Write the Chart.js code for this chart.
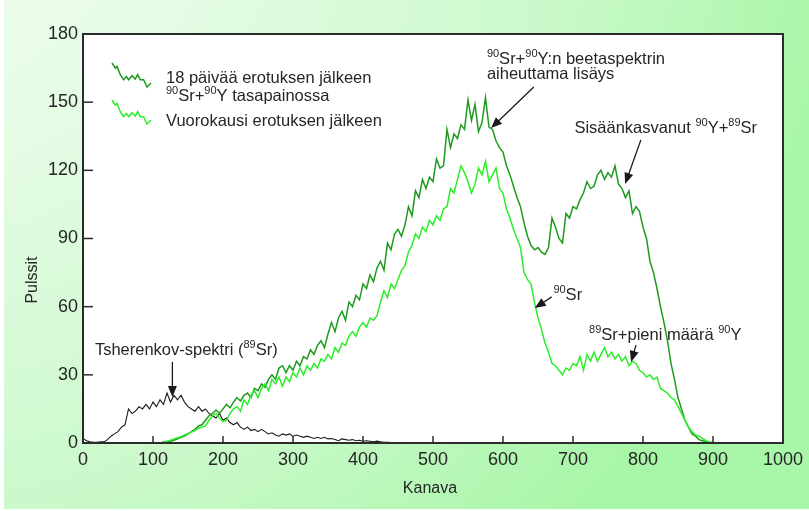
<!DOCTYPE html>
<html>
<head>
<meta charset="utf-8">
<script src="https://cdn.jsdelivr.net/npm/chart.js@4.4.0/dist/chart.umd.min.js"></script>
<style>
html, body { margin: 0; padding: 0; background: #fff; }
#wrap { width: 809px; height: 511px; }
</style>
</head>
<body>
<div id="wrap"><canvas id="myChart" width="809" height="511"></canvas></div>
<script>
// channels (Kanava) for the two green spectra, every 5 channels
var greenChannels = [
  100, 105, 110, 115, 120, 125, 130, 135, 140, 145,
  150, 155, 160, 165, 170, 175, 180, 185, 190, 195,
  200, 205, 210, 215, 220, 225, 230, 235, 240, 245,
  250, 255, 260, 265, 270, 275, 280, 285, 290, 295,
  300, 305, 310, 315, 320, 325, 330, 335, 340, 345,
  350, 355, 360, 365, 370, 375, 380, 385, 390, 395,
  400, 405, 410, 415, 420, 425, 430, 435, 440, 445,
  450, 455, 460, 465, 470, 475, 480, 485, 490, 495,
  500, 505, 510, 515, 520, 525, 530, 535, 540, 545,
  550, 555, 560, 565, 570, 575, 580, 585, 590, 595,
  600, 605, 610, 615, 620, 625, 630, 635, 640, 645,
  650, 655, 660, 665, 670, 675, 680, 685, 690, 695,
  700, 705, 710, 715, 720, 725, 730, 735, 740, 745,
  750, 755, 760, 765, 770, 775, 780, 785, 790, 795,
  800, 805, 810, 815, 820, 825, 830, 835, 840, 845,
  850, 855, 860, 865, 870, 875, 880, 885, 890, 895,
  900
];

// 18 päivää erotuksen jälkeen (90Sr+90Y tasapainossa)
var pulsesDay18 = [
  0, 0, 0, 0.3, 0.5, 0.8, 1.2, 1.8, 2.5, 3,
  4, 5, 6, 7.5, 8, 10, 12, 13, 14.5, 13,
  15, 17, 15.5, 18, 20, 18.5, 21, 22, 20, 24,
  23, 26, 24.5, 28, 30, 28, 33, 34, 31, 34,
  32, 36, 34, 38, 37, 41, 39, 43, 45, 42,
  48, 53, 49, 55, 58, 54, 62, 60, 65, 63,
  70, 68, 74, 71, 77, 80, 76, 88, 85, 92,
  94, 91, 96, 104, 100, 111, 108, 116, 112, 117,
  115, 125, 121, 122, 138, 130, 136, 134, 140, 138,
  151, 142, 149, 137, 141, 152, 139, 138, 133, 130,
  128, 122, 118, 113, 108, 104, 97, 91, 87, 85,
  86, 84, 83, 86, 99, 95, 90, 88, 101, 99,
  104, 103, 107, 110, 115, 112, 113, 118, 120, 116,
  119, 117, 122, 114, 112, 108, 111, 101, 104, 102,
  95, 90, 80, 75, 68, 60, 53, 45, 35, 28,
  20, 15, 10, 7, 4, 3, 1.5, 1, 0.5, 0.2,
  0
];

// Vuorokausi erotuksen jälkeen
var pulsesDay1 = [
  0, 0, 0, 0.3, 0.8, 1.2, 1.8, 2.3, 2.8, 3.5,
  4.2, 4.8, 5.5, 6.5, 7, 7.5, 10, 12, 13, 11,
  9.5, 10, 13, 15, 16, 14, 19, 17, 21, 23,
  20, 24, 26, 23, 28, 26, 29, 25, 29, 27,
  31, 29, 33, 30, 34, 32, 35, 33, 37, 36,
  39, 37, 42, 40, 44, 43, 47, 49, 47, 51,
  53, 51, 55, 54, 56, 62, 67, 64, 70, 68,
  72, 76, 78, 84, 87, 92, 90, 95, 93, 98,
  96, 100, 98, 103, 104, 112, 110, 116, 122, 119,
  115, 110, 114, 121, 118, 124, 115, 118, 121, 112,
  110, 103, 99, 94, 90, 86, 75, 72, 70, 62,
  55, 50, 44, 40, 35, 34, 32, 30, 33, 32,
  35, 34, 38, 32, 39, 36, 40, 36, 39, 42,
  38, 40, 37, 39, 36, 38, 34, 36, 35, 32,
  31, 29, 30, 28, 29, 24, 23, 22, 20, 19,
  16, 13, 10, 7, 5, 3.5, 3, 2, 1, 0.5,
  0
];

// Tsherenkov-spektri (89Sr)
var cherenkovChannels = [
  0, 5, 10, 15, 20, 25, 30, 35, 40, 45,
  50, 55, 60, 65, 70, 75, 80, 85, 90, 95,
  100, 105, 110, 115, 120, 125, 130, 135, 140, 145,
  150, 155, 160, 165, 170, 175, 180, 185, 190, 195,
  200, 205, 210, 215, 220, 225, 230, 235, 240, 245,
  250, 255, 260, 265, 270, 275, 280, 285, 290, 295,
  300, 305, 310, 315, 320, 325, 330, 335, 340, 345,
  350, 355, 360, 365, 370, 375, 380, 385, 390, 395,
  400, 405, 410, 415, 420, 425, 430, 435, 440, 445
];
var cherenkovPulses = [
  2, 1, 0.5, 0.3, 0.3, 0.5, 0.5, 1.5, 3, 4,
  5, 7, 8, 15, 13, 14, 16, 15, 17, 15,
  18, 16, 19, 17, 22, 18, 21, 19, 21, 18,
  16, 15, 14, 16, 14, 15, 13, 12, 11, 13,
  10, 11, 9, 8, 9, 7, 6, 7, 5.5, 6,
  5, 6, 5, 4, 4.5, 3.5, 3, 4, 3.5, 4,
  3, 3.5, 3, 2.5, 3, 2.5, 2, 2.5, 2, 2.5,
  1.8, 2, 1.5, 1, 1.8, 1.5, 1.2, 1.5, 1, 1.2,
  0.8, 1, 0.8, 0.5, 0.8, 0.5, 0.3, 0.3, 0.2, 0
];

var FONT = "'Liberation Sans', Arial, sans-serif";
var TEXT = '#262626';
var DARK_GREEN = '#1d9a1d';
var LIGHT_GREEN = '#2bee2b';
var LABEL_SIZE = 16.5;

// annotation texts, placed in data units (channel, pulses); '^' marks a superscript
var notes = [
  { parts: ['^90', 'Sr+', '^90', 'Y:n beetaspektrin'], at: [577, 166.8] },
  { parts: ['aiheuttama lisäys'], at: [577, 160.2] },
  { parts: ['Sisäänkasvanut ', '^90', 'Y+', '^89', 'Sr'], at: [702, 136.4] },
  { parts: ['Tsherenkov-spektri (', '^89', 'Sr)'], at: [17, 38.7] },
  { parts: ['^90', 'Sr'], at: [672, 62.9] },
  { parts: ['^89', 'Sr+pieni määrä ', '^90', 'Y'], at: [723, 45.3] }
];
// arrows: from [ch, pulses] to [ch, pulses]
var arrows = [
  [644, 156.7, 583, 138.6],
  [797, 133.4, 774.5, 114],
  [127.7, 35.7, 127.7, 20.2],
  [669.5, 64.3, 645.4, 59.4],
  [790, 43.1, 783, 35.7]
];

function toPoints(xs, ys) {
  return xs.map(function (x, i) { return { x: x, y: ys[i] }; });
}

function drawRich(ctx, parts, x, y, size) {
  var cx = x;
  parts.forEach(function (p) {
    var sup = p.charAt(0) === '^';
    var t = sup ? p.slice(1) : p;
    ctx.font = (sup ? Math.round(size * 0.66) : size) + 'px ' + FONT;
    ctx.fillText(t, cx, sup ? y - size * 0.4 : y);
    cx += ctx.measureText(t).width;
  });
}

function drawArrow(ctx, x1, y1, x2, y2) {
  var ang = Math.atan2(y2 - y1, x2 - x1), L = 11, W = 4.5;
  var c = Math.cos(ang), s = Math.sin(ang);
  ctx.beginPath();
  ctx.moveTo(x1, y1);
  ctx.lineTo(x2 - c * L * 0.8, y2 - s * L * 0.8);
  ctx.stroke();
  ctx.beginPath();
  ctx.moveTo(x2, y2);
  ctx.lineTo(x2 - L * c + W * s, y2 - L * s - W * c);
  ctx.lineTo(x2 - L * c - W * s, y2 - L * s + W * c);
  ctx.closePath();
  ctx.fill();
}

// squiggle used as legend symbol (pixel offsets from its start)
var squiggle = [[0, 0], [3.3, 5], [5, 3.4], [8.3, 11.7], [11.6, 16.7], [14.3, 13.4], [16.6, 16.7],
  [20, 12.7], [23.3, 16], [25.6, 11.7], [28.3, 16.7], [31.6, 16.7], [35, 24], [39, 20]];

function drawSquiggle(ctx, x, y, color) {
  ctx.beginPath();
  squiggle.forEach(function (p, i) {
    if (i === 0) ctx.moveTo(x + p[0], y + p[1]); else ctx.lineTo(x + p[0], y + p[1]);
  });
  ctx.strokeStyle = color;
  ctx.lineWidth = 1.5;
  ctx.stroke();
}

var decorPlugin = {
  id: 'decor',
  beforeDraw: function (chart) {
    var ctx = chart.ctx, a = chart.chartArea;
    ctx.save();
    var g = ctx.createRadialGradient(-100, -150, 0, -100, -150, 950);
    g.addColorStop(0, '#f6fef6');
    g.addColorStop(0.4, '#e0fbe0');
    g.addColorStop(0.7, '#cbf9cb');
    g.addColorStop(1, '#a8f6a8');
    ctx.fillStyle = g;
    ctx.fillRect(0, 0, chart.width, chart.height);
    ctx.fillStyle = '#ffffff';
    ctx.fillRect(0, 0, 4, chart.height);
    ctx.fillRect(0, chart.height - 2, chart.width, 2);
    ctx.fillRect(a.left, a.top, a.right - a.left, a.bottom - a.top);
    ctx.restore();
  },
  afterDraw: function (chart) {
    var ctx = chart.ctx, a = chart.chartArea;
    var xs = chart.scales.x, ys = chart.scales.y;
    ctx.save();

    // inward ticks on left and bottom
    ctx.strokeStyle = '#2b2b2b';
    ctx.lineWidth = 1.5;
    ys.ticks.forEach(function (t) {
      var py = ys.getPixelForValue(t.value);
      ctx.beginPath(); ctx.moveTo(a.left, py); ctx.lineTo(a.left + 10, py); ctx.stroke();
    });
    xs.ticks.forEach(function (t) {
      var px = xs.getPixelForValue(t.value);
      ctx.beginPath(); ctx.moveTo(px, a.bottom); ctx.lineTo(px, a.bottom - 7); ctx.stroke();
    });

    // frame
    ctx.lineWidth = 2;
    ctx.strokeRect(a.left, a.top, a.right - a.left, a.bottom - a.top);

    // axis titles
    ctx.fillStyle = TEXT;
    ctx.font = '16px ' + FONT;
    ctx.textAlign = 'center';
    ctx.textBaseline = 'middle';
    ctx.fillText('Kanava', 430, 489);
    ctx.save();
    ctx.translate(33, 280);
    ctx.rotate(-Math.PI / 2);
    ctx.fillText('Pulssit', 0, 0);
    ctx.restore();

    // legend
    ctx.textAlign = 'left';
    ctx.textBaseline = 'alphabetic';
    drawSquiggle(ctx, 112, 63, DARK_GREEN);
    drawSquiggle(ctx, 112, 100, LIGHT_GREEN);
    ctx.fillStyle = TEXT;
    drawRich(ctx, ['18 päivää erotuksen jälkeen'], 166, 82.5, LABEL_SIZE);
    drawRich(ctx, ['^90', 'Sr+', '^90', 'Y tasapainossa'], 166, 101, LABEL_SIZE);
    drawRich(ctx, ['Vuorokausi erotuksen jälkeen'], 166, 126, LABEL_SIZE);

    // annotations
    notes.forEach(function (n) {
      drawRich(ctx, n.parts, xs.getPixelForValue(n.at[0]), ys.getPixelForValue(n.at[1]), LABEL_SIZE);
    });
    ctx.strokeStyle = '#1a1a1a';
    ctx.fillStyle = '#1a1a1a';
    ctx.lineWidth = 1.3;
    arrows.forEach(function (r) {
      drawArrow(ctx, xs.getPixelForValue(r[0]), ys.getPixelForValue(r[1]),
        xs.getPixelForValue(r[2]), ys.getPixelForValue(r[3]));
    });
    ctx.restore();
  }
};

Chart.defaults.font.family = FONT;

var element = document.getElementById('myChart').getContext('2d');

var chartData = {
  datasets: [
    {
      label: 'Vuorokausi erotuksen jälkeen',
      data: toPoints(greenChannels, pulsesDay1),
      borderColor: LIGHT_GREEN,
      borderWidth: 1.5
    },
    {
      label: '18 päivää erotuksen jälkeen',
      data: toPoints(greenChannels, pulsesDay18),
      borderColor: DARK_GREEN,
      borderWidth: 1.5
    },
    {
      label: 'Tsherenkov-spektri',
      data: toPoints(cherenkovChannels, cherenkovPulses),
      borderColor: '#1a1a1a',
      borderWidth: 1.1
    }
  ]
};

var chartOptions = {
  responsive: false,
  animation: false,
  layout: { padding: { left: 0, top: 34, right: 21, bottom: 0 } },
  plugins: { legend: { display: false }, tooltip: { enabled: false } },
  elements: { point: { radius: 0 }, line: { tension: 0, fill: false } },
  scales: {
    x: {
      type: 'linear', min: 0, max: 1000,
      ticks: {
        stepSize: 100, autoSkip: false, maxRotation: 0, padding: 6, color: TEXT, font: { size: 18 },
        callback: function (v) { return String(v); }
      },
      grid: { display: false, drawTicks: false },
      border: { display: false },
      afterFit: function (s) { s.height = 68; }
    },
    y: {
      min: 0, max: 180,
      ticks: { stepSize: 30, padding: 5, color: TEXT, font: { size: 18 } },
      grid: { display: false, drawTicks: false },
      border: { display: false },
      afterFit: function (s) { s.width = 83; }
    }
  }
};

var chart = new Chart(element, { type: 'line', data: chartData, options: chartOptions, plugins: [decorPlugin] });
</script>
</body>
</html>
